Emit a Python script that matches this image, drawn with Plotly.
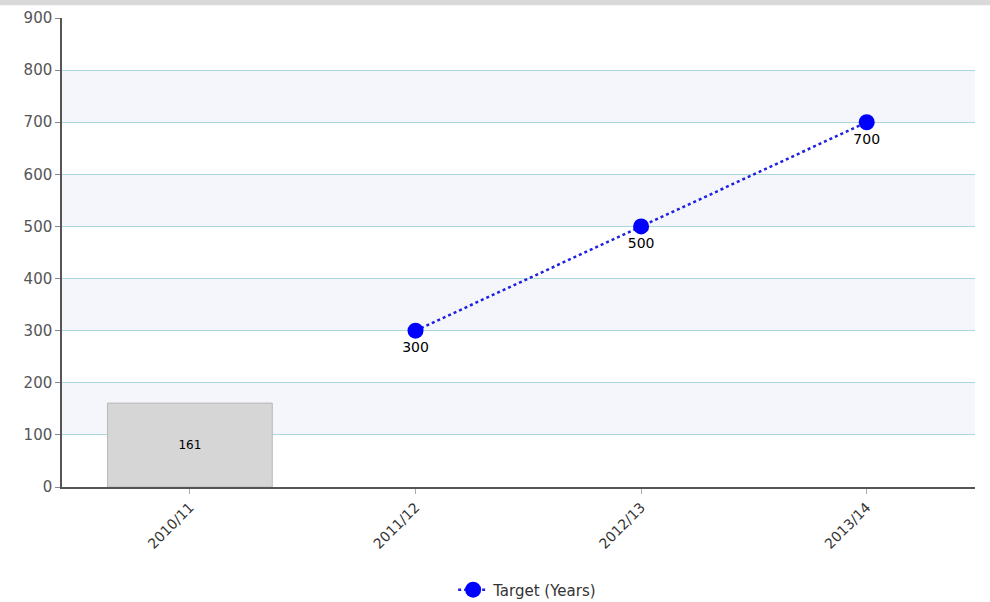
import plotly.graph_objects as go

categories = ["2010/11", "2011/12", "2012/13", "2013/14"]
actual_values = [161, None, None, None]
target_values = [None, 300, 500, 700]
y_ticks = [0, 100, 200, 300, 400, 500, 600, 700, 800, 900]

fig = go.Figure()

fig.add_trace(go.Bar(
    x=categories, y=actual_values, name="Actual",
    marker=dict(color="#d6d6d6", line=dict(color="#b8b8b8", width=1)),
    width=0.73, text=["161", "", "", ""], textposition="inside",
    insidetextanchor="middle", textfont=dict(color="#000", size=12, family="DejaVu Sans"),
    showlegend=False, cliponaxis=False,
))

fig.add_trace(go.Scatter(
    x=categories, y=target_values, name="Target (Years)", mode="lines+markers+text",
    line=dict(color="#2020e0", width=2.5, dash="dot"),
    marker=dict(color="#0000ff", size=16),
    text=[("" if v is None else str(v)) for v in target_values],
    textposition="bottom center",
    textfont=dict(color="#000", size=14, family="DejaVu Sans"),
    connectgaps=False,
))

shapes = []
for lo in [100, 300, 500, 700]:
    shapes.append(dict(type="rect", xref="paper", yref="y", x0=0, x1=1, y0=lo, y1=lo + 100,
                       fillcolor="#f4f6fc", line=dict(width=0), layer="below"))
shapes.append(dict(type="rect", xref="paper", yref="paper", x0=-0.1, x1=1.1, y0=1.027, y1=1.06,
                   fillcolor="#d9d9d9", line=dict(width=0), layer="above"))

fig.update_layout(
    width=990, height=602,
    margin=dict(l=62, r=15, t=18, b=115, autoexpand=False),
    paper_bgcolor="white", plot_bgcolor="white",
    shapes=shapes,
    font=dict(family="DejaVu Sans", color="#444"),
    legend=dict(orientation="h", x=0.51, xanchor="center", yref="container", y=0.02, yanchor="middle",
                font=dict(size=15, color="#333", family="DejaVu Sans")),
    xaxis=dict(range=[-0.567, 3.48], tickangle=-45, showgrid=False, automargin=False,
               showline=True, linecolor="#555", linewidth=1.5,
               ticks="outside", ticklen=5, tickcolor="#aaa",
               tickfont=dict(size=14, color="#333")),
    yaxis=dict(range=[0, 900], tickvals=y_ticks, showgrid=True, gridcolor="#a9d9dd", automargin=False,
               gridwidth=1, zeroline=False, showline=True, linecolor="#555", linewidth=1.5,
               ticks="outside", ticklen=5, tickcolor="#888",
               tickfont=dict(size=15, color="#555")),
)

fig.write_html("out.html", config={"displayModeBar": False},
               post_script="document.body.style.margin='0';document.body.style.overflow='hidden';")
